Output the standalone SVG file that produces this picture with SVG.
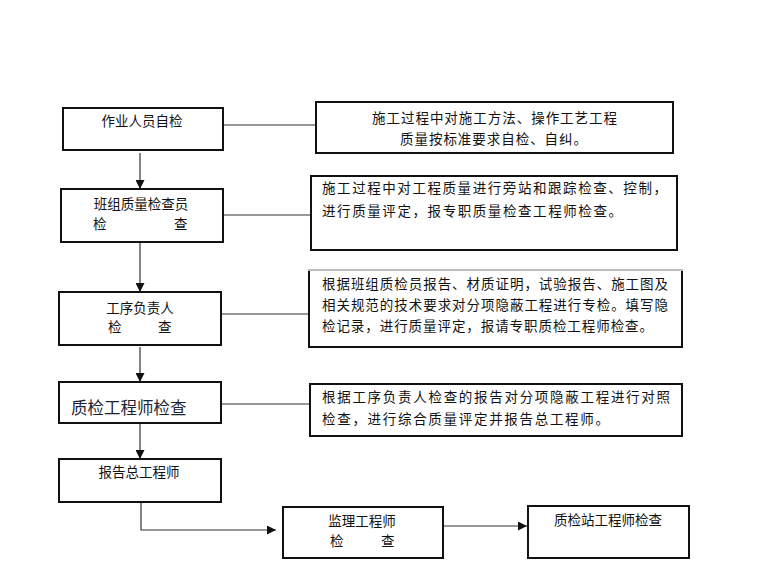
<svg xmlns="http://www.w3.org/2000/svg" width="760" height="570" viewBox="0 0 760 570">
<defs>
<marker id="ah" markerUnits="userSpaceOnUse" markerWidth="9" markerHeight="9" refX="9" refY="4.5" orient="auto">
<path d="M0,0 L9,4.5 L0,9 z" fill="#111"/>
</marker>
<style>
.box{fill:#fff;stroke:#111;stroke-width:2}
.t{font-family:"Noto Sans CJK SC","Noto Sans CJK TC",sans-serif;font-size:13.5px;fill:#111}
.c{text-anchor:middle}
.ln{stroke:#333;stroke-width:1.2;fill:none}
.ar{stroke:#333;stroke-width:1.2;fill:none;marker-end:url(#ah)}
</style>
</defs>
<rect width="760" height="570" fill="#fff"/>

<g id="connectors">
<line class="ar" x1="140" y1="153" x2="140" y2="189"/>
<line class="ar" x1="140" y1="236" x2="140" y2="292"/>
<line class="ar" x1="140" y1="347" x2="140" y2="382"/>
<line class="ar" x1="140" y1="423" x2="140" y2="459"/>
<polyline class="ar" points="141,502 141,530 276,530"/>
<line class="ar" x1="443" y1="526" x2="527" y2="526"/>
<line class="ln" x1="223" y1="125" x2="316" y2="125"/>
<line class="ln" x1="223" y1="215" x2="311" y2="215"/>
<line class="ln" x1="221" y1="314" x2="309" y2="314"/>
<line class="ln" x1="221" y1="404" x2="310" y2="404"/>
</g>

<g id="n1">
<rect class="box" x="63" y="108" width="160" height="42"/>
<text class="t c" x="142" y="126">作业人员自检</text>
</g>
<g id="n2">
<rect class="box" x="61" y="189" width="162" height="53"/>
<text class="t c" x="141" y="209">班组质量检查员</text>
<text class="t" x="93" y="229">检</text>
<text class="t" x="174" y="229">查</text>
</g>
<g id="n3">
<rect class="box" x="59" y="292" width="162" height="53"/>
<text class="t c" x="140" y="313">工序负责人</text>
<text class="t" x="108" y="332">检</text>
<text class="t" x="158" y="332">查</text>
</g>
<g id="n4">
<rect class="box" x="59" y="382" width="162" height="41"/>
<text x="71" y="414" font-family="'Noto Sans CJK SC',serif" font-size="16.5" fill="#1c2433">质检工程师检查</text>
</g>
<g id="n5">
<rect class="box" x="59" y="459" width="162" height="43"/>
<text class="t c" x="139" y="477">报告总工程师</text>
</g>
<g id="n6">
<rect class="box" x="283" y="507" width="160" height="51"/>
<text class="t c" x="362" y="526">监理工程师</text>
<text class="t" x="330" y="546">检</text>
<text class="t" x="381" y="546">查</text>
</g>
<g id="n7">
<rect class="box" x="528" y="506" width="161" height="52"/>
<text class="t c" x="608" y="525">质检站工程师检查</text>
</g>

<g id="d1">
<rect class="box" x="316" y="102" width="357" height="51"/>
<text class="t" x="372" y="123" textLength="245" lengthAdjust="spacing">施工过程中对施工方法、操作工艺工程</text>
<text class="t" x="400" y="144" textLength="187" lengthAdjust="spacing">质量按标准要求自检、自纠。</text>
</g>
<g id="d2">
<rect class="box" x="311" y="176" width="366" height="74"/>
<text class="t" x="322" y="193" textLength="345" lengthAdjust="spacing">施工过程中对工程质量进行旁站和跟踪检查、控制，</text>
<text class="t" x="322" y="216" textLength="300" lengthAdjust="spacing">进行质量评定，报专职质量检查工程师检查。</text>
</g>
<g id="d3">
<rect class="box" x="309" y="270" width="373" height="77"/>
<line x1="308" y1="270" x2="683" y2="270" stroke="#bbb" stroke-width="2"/>
<text class="t" x="322" y="289" textLength="346" lengthAdjust="spacing">根据班组质检员报告、材质证明，试验报告、施工图及</text>
<text class="t" x="322" y="310" textLength="346" lengthAdjust="spacing">相关规范的技术要求对分项隐蔽工程进行专检。填写隐</text>
<text class="t" x="322" y="331" textLength="331" lengthAdjust="spacing">检记录，进行质量评定，报请专职质检工程师检查。</text>
</g>
<g id="d4">
<rect class="box" x="310" y="384" width="372" height="52"/>
<text class="t" x="322" y="402" textLength="348" lengthAdjust="spacing">根据工序负责人检查的报告对分项隐蔽工程进行对照</text>
<text class="t" x="322" y="424" textLength="287" lengthAdjust="spacing">检查，进行综合质量评定并报告总工程师。</text>
</g>
</svg>
